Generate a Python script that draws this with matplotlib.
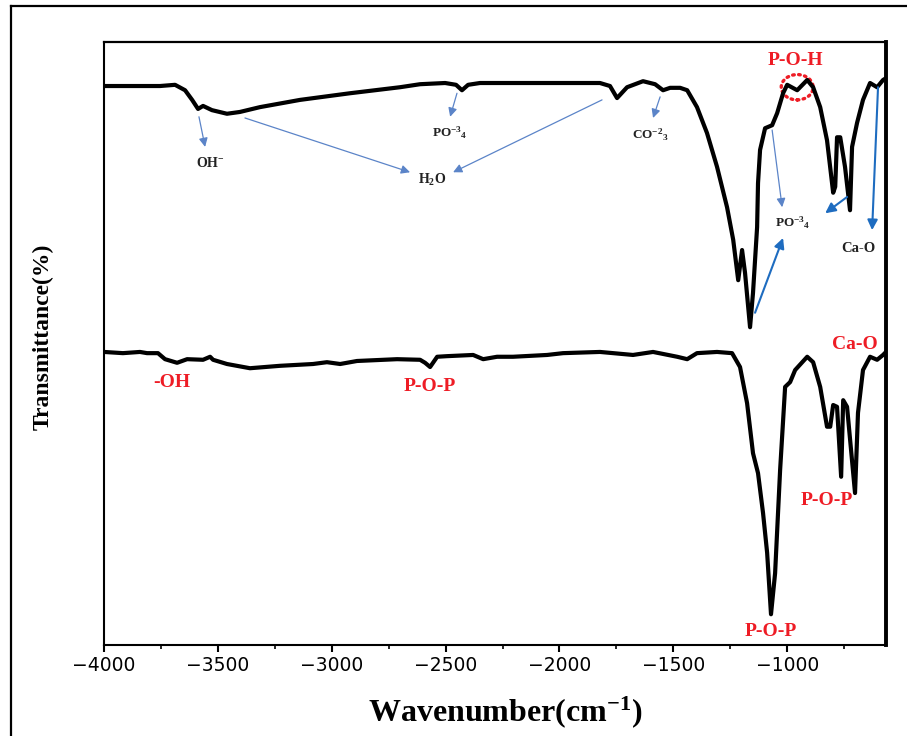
import matplotlib
matplotlib.use("Agg")
import matplotlib.pyplot as plt
from matplotlib.patches import Ellipse
from matplotlib.lines import Line2D

plt.rcParams['mathtext.fontset'] = 'custom'
plt.rcParams['mathtext.rm'] = 'Liberation Serif'
plt.rcParams['mathtext.bf'] = 'Liberation Serif:bold'
plt.rcParams['mathtext.default'] = 'bf'

# ---------------- data ----------------
upper_wn = [-4000, -3842, -3754, -3688, -3644, -3613, -3587, -3565, -3526, -3460, -3403, -3315,
            -3139, -2920, -2700, -2612, -2502, -2454, -2428, -2401, -2349, -1822, -1778, -1747,
            -1703, -1633, -1580, -1545, -1514, -1470, -1439, -1396, -1352, -1308, -1264, -1237,
            -1215, -1198, -1185, -1163, -1150, -1132, -1128, -1119, -1097, -1066, -1044, -1018,
            -1000, -956, -912, -886, -855, -825, -798, -789, -781, -767, -746, -724, -715, -693,
            -667, -636, -605, -579, -566]
upper_t = [92.7, 92.7, 92.7, 92.9, 92.0, 90.4, 88.9, 89.4, 88.7, 88.1, 88.4, 89.2,
           90.4, 91.5, 92.5, 93.0, 93.2, 92.9, 92.0, 92.9, 93.2, 93.2, 92.7, 90.7,
           92.5, 93.5, 93.0, 92.0, 92.4, 92.4, 92.0, 89.2, 84.9, 79.3, 72.6, 67.2,
           60.5, 65.5, 61.7, 52.7, 58.4, 69.3, 76.6, 82.1, 85.7, 86.2, 88.2, 91.5,
           92.9, 92.0, 93.7, 92.5, 89.2, 83.7, 75.0, 76.0, 84.2, 84.2, 79.3, 72.1, 82.6, 86.6,
           90.4, 93.2, 92.5, 93.7, 94.0]

lower_wn = [-4000, -3917, -3842, -3811, -3763, -3732, -3679, -3635, -3565, -3534, -3521, -3460,
            -3359, -3227, -3082, -3021, -2963, -2889, -2713, -2612, -2590, -2568, -2537, -2494,
            -2379, -2335, -2274, -2204, -2054, -1984, -1822, -1677, -1589, -1483, -1439, -1396,
            -1308, -1242, -1207, -1176, -1150, -1128, -1106, -1088, -1071, -1053, -1031, -1009,
            -987, -965, -912, -886, -855, -825, -811, -798, -781, -763, -754, -737, -702, -689,
            -667, -636, -605, -579, -566]
lower_t = [48.6, 48.4, 48.6, 48.4, 48.4, 47.4, 46.8, 47.4, 47.3, 47.8, 47.3, 46.6,
           45.9, 46.3, 46.6, 46.9, 46.6, 47.1, 47.4, 47.3, 46.8, 46.1, 47.8, 47.9,
           48.1, 47.4, 47.8, 47.8, 48.1, 48.4, 48.6, 48.1, 48.6, 47.8, 47.4, 48.4,
           48.6, 48.4, 46.1, 40.1, 31.8, 28.5, 21.9, 15.3, 5.1, 11.9, 29.0, 42.8,
           43.6, 45.6, 47.8, 46.9, 42.8, 36.2, 36.2, 39.8, 39.5, 27.9, 40.6, 39.5, 25.2, 38.5,
           45.6, 47.8, 47.3, 48.1, 48.6]

# black band labels (upper spectrum)
black_labels = [r'OH$^{-}$', r'H$_{2}$O', r'PO$^{-3}$$_{4}$', r'CO$^{-2}$$_{3}$',
                r'PO$^{-3}$$_{4}$', 'Ca-O']
black_wn = [-3534, -2559, -2480, -1602, -974, -688]
black_t = [79.9, 77.1, 84.9, 84.6, 70.0, 65.7]
black_size = [10, 10, 9.5, 9.5, 9.5, 10.5]

# red band labels
red_labels = ['P-O-H', '-OH', 'P-O-P', 'Ca-O', 'P-O-P', 'P-O-P']
red_wn = [-965, -3701, -2568, -702, -825, -1071]
red_t = [97.0, 43.6, 42.8, 49.9, 24.0, 2.2]

# arrows: (start wn, start t, end wn, end t)
light_arrows = [(-3583, 87.6, -3556, 82.6),
                (-3381, 87.4, -2656, 78.4),
                (-1813, 90.4, -2467, 78.4),
                (-2450, 91.5, -2480, 87.6),
                (-1558, 90.9, -1589, 87.4),
                (-1066, 85.4, -1022, 72.6)]
dark_arrows = [(-737, 74.3, -833, 71.6),
               (-1141, 55.1, -1018, 67.5),
               (-601, 92.5, -627, 68.8)]

xticks = [-4000, -3500, -3000, -2500, -2000, -1500, -1000]

# ---------------- figure ----------------
W, H = 907, 736
fig = plt.figure(figsize=(W / 100, H / 100), dpi=100)
ax = fig.add_axes([104 / W, 1 - 645 / H, (886 - 104) / W, (645 - 42) / H])

# outer frame (left and top edges visible)
fig.add_artist(Line2D([10.5 / W, 10.5 / W], [0, 1 - 6 / H], transform=fig.transFigure,
                      color='black', lw=1.6))
fig.add_artist(Line2D([10.5 / W, 1.0], [1 - 6 / H, 1 - 6 / H], transform=fig.transFigure,
                      color='black', lw=1.6))

ax.plot(upper_wn, upper_t, color='black', lw=3.0, solid_joinstyle='round')
ax.plot(lower_wn, lower_t, color='black', lw=3.0, solid_joinstyle='round')

ax.set_xlim(-4000, -566)
ax.set_ylim(0, 100)

for (x0, y0, x1, y1) in light_arrows:
    ax.annotate('', xy=(x1, y1), xytext=(x0, y0),
                arrowprops=dict(arrowstyle='-|>', color='#5B84C8', lw=0.9,
                                mutation_scale=13, shrinkA=0, shrinkB=0))
for (x0, y0, x1, y1) in dark_arrows:
    ax.annotate('', xy=(x1, y1), xytext=(x0, y0),
                arrowprops=dict(arrowstyle='-|>', color='#1E6CC0', lw=1.5,
                                mutation_scale=15, shrinkA=0, shrinkB=0))

for s, x, y, fs in zip(black_labels, black_wn, black_t, black_size):
    ax.text(x, y, s, ha='center', va='center', fontsize=fs, fontweight='bold',
            family='Liberation Serif', color='#222222')

for s, x, y in zip(red_labels, red_wn, red_t):
    ax.text(x, y, s, ha='center', va='center', fontsize=14, fontweight='bold',
            family='Liberation Serif', color='#EE1C25')

ax.add_patch(Ellipse((-956, 92.5), 140, 4.2, fill=False, edgecolor='#EE1C25',
                     lw=2.4, linestyle=(0, (0.5, 1.3)), capstyle='round'))

# spines
for side in ['left', 'bottom']:
    ax.spines[side].set_linewidth(1.5)
ax.spines['top'].set_linewidth(1.6)
ax.spines['right'].set_linewidth(2.8)

ax.set_xticks(xticks)
ax.set_xticks([-3750, -3250, -2750, -2250, -1750, -1250, -750], minor=True)
ax.tick_params(axis='x', which='major', direction='out', length=5, width=1.5,
               labelsize=13.5, pad=3)
ax.tick_params(axis='x', which='minor', direction='out', length=3, width=1.2)
ax.set_yticks([0, 48.6])
ax.tick_params(axis='y', which='major', direction='in', length=5, width=1.3,
               labelleft=False)

ax.set_xlabel(r'Wavenumber(cm$^{-1}$)', fontsize=23, fontweight='bold',
              family='Liberation Serif')
ax.xaxis.label.set_va('center')
ax.xaxis.set_label_coords((505 - 104) / 782, (645 - 712) / 603)

ax.set_ylabel('Transmittance(%)', fontsize=17, fontweight='bold', family='Liberation Serif')
ax.yaxis.label.set_va('center')
ax.yaxis.set_label_coords((43 - 104) / 782, (645 - 337) / 603)

fig.savefig('out.png', dpi=100)
